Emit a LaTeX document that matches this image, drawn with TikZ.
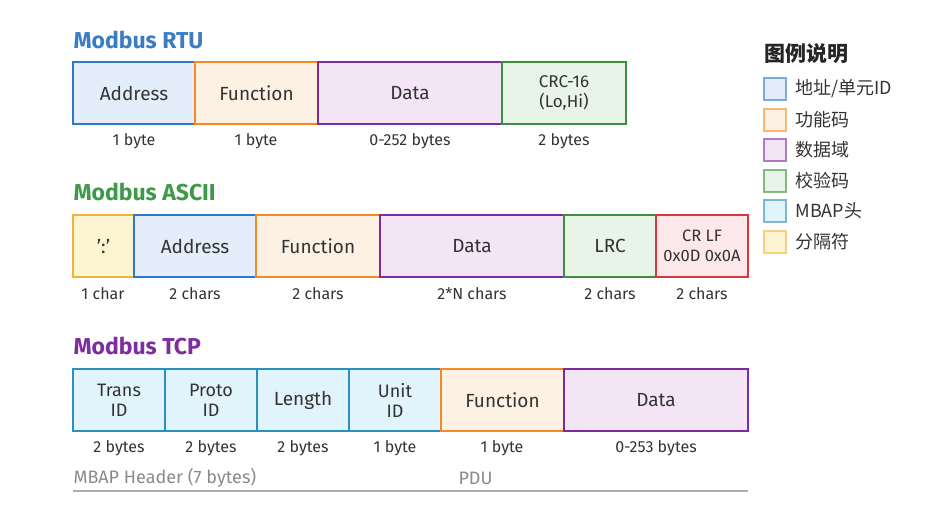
\documentclass[tikz,border=0pt]{standalone}
\usepackage{fontspec}
\setmainfont{Fira Sans}
\newfontfamily\cjk{Noto Sans CJK SC}
\definecolor{bluB}{HTML}{2F78C4}\definecolor{bluF}{HTML}{E4EEFA}
\definecolor{oraB}{HTML}{F28B25}\definecolor{oraF}{HTML}{FDF1E3}
\definecolor{purB}{HTML}{7D2BA0}\definecolor{purF}{HTML}{F3E4F6}
\definecolor{grnB}{HTML}{3C8F3C}\definecolor{grnF}{HTML}{E8F4E7}
\definecolor{redB}{HTML}{D8363C}\definecolor{redF}{HTML}{FCE7EB}
\definecolor{yelB}{HTML}{F2B33D}\definecolor{yelF}{HTML}{FDF4D2}
\definecolor{mbaB}{HTML}{2A8EC0}\definecolor{mbaF}{HTML}{E1F3FB}
\definecolor{ttlRTU}{HTML}{3A7DC3}\definecolor{ttlASC}{HTML}{3E9A48}\definecolor{ttlTCP}{HTML}{7E2D9D}
\definecolor{txt}{HTML}{333333}\definecolor{gry}{HTML}{8A8A8A}
\begin{document}
\begin{tikzpicture}[x=1pt,y=-1pt,
  fld/.style={line width=2.6pt,text=txt,font=\fontsize{19}{20}\selectfont,align=center},
  sml/.style={text=txt,font=\fontsize{16}{17}\selectfont,anchor=center},
  ttl/.style={font=\fontsize{23}{25}\selectfont\bfseries,anchor=west},
  lg/.style={line width=2pt,draw opacity=0.6},
  lgt/.style={anchor=west,text=txt,font=\cjk\fontsize{18}{19}\selectfont}]
\useasboundingbox (0,0) rectangle (940,520);
% RTU
\node[ttl,text=ttlRTU] (tR) at (70,40) {Modbus RTU};
\def\fbox#1#2#3#4#5#6#7{\filldraw[fld,draw=#1B,fill=#1F] (#2,#4) rectangle (#3,#5); \node[fld] (#6) at ({(#2+#3)/2},{(#4+#5)/2}) {#7};}
\fbox{blu}{73}{195}{62}{124}{rA}{Address}
\fbox{ora}{195}{318}{62}{124}{rF}{Function}
\fbox{pur}{318}{502}{62}{124}{rD}{Data}
\fbox{grn}{502}{626}{62}{124}{rC}{\fontsize{17}{19}\selectfont CRC-16\\\fontsize{17}{19}\selectfont(Lo,Hi)}
\node[sml] (rA1) at (134,141) {1 byte};
\node[sml] (rF1) at (256,141) {1 byte};
\node[sml] (rD1) at (410,141) {0-252 bytes};
\node[sml] (rC1) at (564,141) {2 bytes};
% ASCII
\node[ttl,text=ttlASC] (tA) at (70,192) {Modbus ASCII};
\fbox{yel}{73}{134}{215}{277}{aS}{':'}
\fbox{blu}{134}{256}{215}{277}{aA}{Address}
\fbox{ora}{256}{380}{215}{277}{aF}{Function}
\fbox{pur}{380}{564}{215}{277}{aD}{Data}
\fbox{grn}{564}{656}{215}{277}{aL}{LRC}
\fbox{red}{656}{748}{215}{277}{aC}{\fontsize{16.5}{18.5}\selectfont CR LF\\\fontsize{16.5}{18.5}\selectfont 0x0D 0x0A}
\node[sml] at (103,294) {1 char};
\node[sml] at (195,294) {2 chars};
\node[sml] at (318,294) {2 chars};
\node[sml] at (472,294) {2*N chars};
\node[sml] at (610,294) {2 chars};
\node[sml] at (702,294) {2 chars};
% TCP
\node[ttl,text=ttlTCP] (tT) at (70,346) {Modbus TCP};
\fbox{mba}{73}{165}{369}{431}{tTr}{\fontsize{18}{19}\selectfont Trans\\\fontsize{18}{19}\selectfont ID}
\fbox{mba}{165}{257}{369}{431}{tPr}{\fontsize{18}{19}\selectfont Proto\\\fontsize{18}{19}\selectfont ID}
\fbox{mba}{257}{349}{369}{431}{tLe}{Length}
\fbox{mba}{349}{441}{369}{431}{tUn}{\fontsize{18}{19}\selectfont Unit\\\fontsize{18}{19}\selectfont ID}
\fbox{ora}{441}{564}{369}{431}{tFu}{Function}
\fbox{pur}{564}{748}{369}{431}{tDa}{Data}
\node[sml] at (119,448) {2 bytes};
\node[sml] at (211,448) {2 bytes};
\node[sml] at (303,448) {2 bytes};
\node[sml] at (395,448) {1 byte};
\node[sml] at (502,448) {1 byte};
\node[sml] at (656,448) {0-253 bytes};
\node[anchor=west,text=gry,font=\fontsize{18}{20}\selectfont] (mb) at (70,478) {MBAP Header (7 bytes)};
\node[anchor=west,text=gry,font=\fontsize{18}{20}\selectfont] (pdu) at (455,478) {PDU};
\draw[gry!70,line width=1.5pt] (73,491) -- (748,491);
% legend
\node[anchor=west,text=black!85,font=\cjk\bfseries\fontsize{21}{23}\selectfont] (lgT) at (761,54) {图例说明};
\foreach \c/\t [count=\i] in {blu/{地址/单元ID},ora/功能码,pur/数据域,grn/校验码,mba/MBAP头,yel/分隔符}{
  \pgfmathsetmacro\yy{89+30.5*(\i-1)}
  \filldraw[lg,draw=\c B,fill=\c F] (764,\yy-11) rectangle (786,\yy+11);
  \node[lgt] (lg\i) at (792,\yy) {\t};
}
\end{tikzpicture}
\end{document}
